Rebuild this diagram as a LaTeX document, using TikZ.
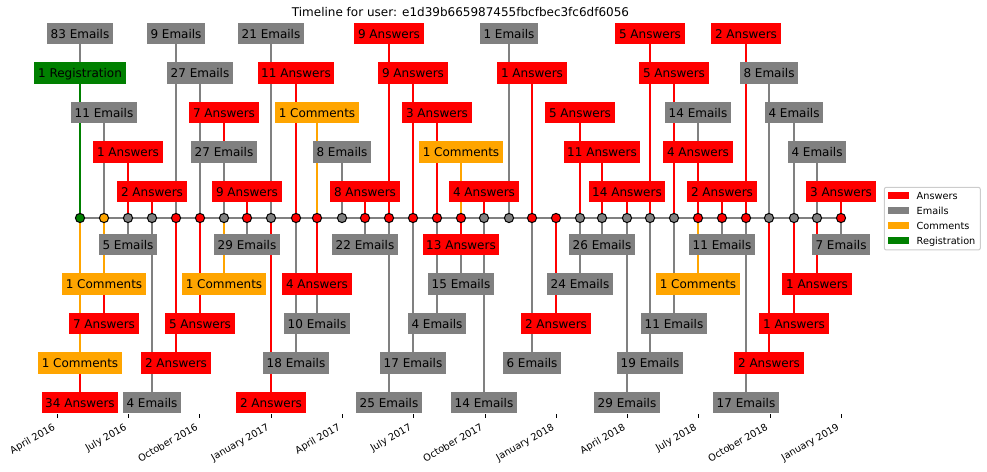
\documentclass[tikz,border=0pt]{standalone}
\usepackage{fontspec}
\setmainfont{DejaVu Sans}
\usetikzlibrary{backgrounds}
\definecolor{Answers}{HTML}{FF0000}
\definecolor{Emails}{HTML}{808080}
\definecolor{Comments}{HTML}{FFA500}
\definecolor{Registration}{HTML}{008000}
\begin{document}
\begin{tikzpicture}[x=0.75pt, y=0.75pt, line join=round,
	dot/.style={circle, draw=black, line width=0.75pt, minimum size=6.9pt, inner sep=0pt},
	tag/.style={fill=#1, text=black, font=\fontsize{9}{10}\selectfont, inner xsep=2.7pt, inner ysep=3.6pt, text height=7.8pt, text depth=1pt},
	stem/.style={draw=#1, line width=1.5pt},
	small/.style={font=\fontsize{7.3}{8}\selectfont, inner sep=0pt, text height=7pt, text depth=1.6pt}]
	\def\yaxis{253} \def\gap{39.5} % baseline, level step
	\useasboundingbox (0,0) rectangle (987,471);
	
	\node[anchor=base, font=\fontsize{9}{10}\selectfont] (title) at (460.5,454.3) {Timeline for user: e1d39b665987455fbcfbec3fc6df6056};
	
	% one dot per month
	\foreach \x/\kind [count=\i] in {80/Registration, 104/Comments, 128/Emails, 152/Emails, 176/Answers, 200/Answers, 224/Emails, 247/Answers, 271/Emails, 296/Answers, 317/Answers, 342/Emails, 365/Answers, 389/Answers, 413/Answers, 437/Answers, 461/Answers, 484/Emails, 509/Emails, 532/Answers, 556/Answers, 580/Emails, 602/Emails, 627/Emails, 650/Emails, 674/Emails, 698/Answers, 722/Answers, 746/Answers, 769/Emails, 794/Emails, 817/Emails, 841/Answers}
		\node[dot, fill=\kind] (m\i) at (\x,\yaxis) {};
	\begin{scope}[on background layer]
		\draw[stem=Emails] (m1.center) -- (m33.center);
	\end{scope}
	
	% labels, outer levels first
	\foreach \i/\lv/\cnt/\kind [count=\j] in {
		1/5/83/Emails, 5/5/9/Emails, 9/5/21/Emails, 14/5/9/Answers, 19/5/1/Emails, 25/5/5/Answers, 29/5/2/Answers,
		1/-5/34/Answers, 4/-5/4/Emails, 9/-5/2/Answers, 14/-5/25/Emails, 18/-5/14/Emails, 24/-5/29/Emails, 29/-5/17/Emails,
		1/4/1/Registration, 6/4/27/Emails, 10/4/11/Answers, 15/4/9/Answers, 20/4/1/Answers, 26/4/5/Answers, 30/4/8/Emails,
		1/-4/1/Comments, 5/-4/2/Answers, 10/-4/18/Emails, 15/-4/17/Emails, 20/-4/6/Emails, 25/-4/19/Emails, 30/-4/2/Answers,
		2/3/11/Emails, 7/3/7/Answers, 11/3/1/Comments, 16/3/3/Answers, 22/3/5/Answers, 27/3/14/Emails, 31/3/4/Emails,
		2/-3/7/Answers, 6/-3/5/Answers, 11/-3/10/Emails, 16/-3/4/Emails, 21/-3/2/Answers, 26/-3/11/Emails, 31/-3/1/Answers,
		3/2/1/Answers, 7/2/27/Emails, 12/2/8/Emails, 17/2/1/Comments, 23/2/11/Answers, 27/2/4/Answers, 32/2/4/Emails,
		2/-2/1/Comments, 7/-2/1/Comments, 11/-2/4/Answers, 17/-2/15/Emails, 22/-2/24/Emails, 27/-2/1/Comments, 32/-2/1/Answers,
		4/1/2/Answers, 8/1/9/Answers, 13/1/8/Answers, 18/1/4/Answers, 24/1/14/Answers, 28/1/2/Answers, 33/1/3/Answers,
		3/-1/5/Emails, 8/-1/29/Emails, 13/-1/22/Emails, 17/-1/13/Answers, 23/-1/26/Emails, 28/-1/11/Emails, 33/-1/7/Emails}{
		\pgfmathsetmacro\dy{0.75*(\lv*\gap-13*\lv/abs(\lv))}
		\node[tag=\kind] (t\j) at ([yshift=\dy pt]m\i.center) {\cnt\ \kind};
		\begin{scope}[on background layer]
			\draw[stem=\kind] (m\i) -- (t\j);
		\end{scope}
	}
	
	% date axis
	\foreach \lab [count=\q from 0] in {April 2016, July 2016, October 2016, January 2017, April 2017, July 2017, October 2017, January 2018, April 2018, July 2018, October 2018, January 2019}{
		\pgfmathsetmacro\tx{57.3+71.27*\q}
		\coordinate (d\q) at (\tx,57);
		\draw[line width=0.6pt] (d\q) -- ++(0,-3.5);
		\node[small, rotate=30, anchor=south east] (dl\q) at ([yshift=-12.7pt]d\q) {\lab};
	}
	
	% legend
	\draw[draw=black!20, fill=white, rounded corners=1.5pt, line width=0.75pt] (884.3,221) rectangle (980.3,283.7);
	\foreach \kind [count=\r from 0] in {Answers, Emails, Comments, Registration}{
		\pgfmathsetmacro\ry{275-14.93*\r}
		\fill[\kind] (888.3,\ry-3.5) rectangle ++(20.7,7);
		\node[small, anchor=west] (lg\r) at (916.4,\ry) {\kind};
	}
\end{tikzpicture}
\end{document}
